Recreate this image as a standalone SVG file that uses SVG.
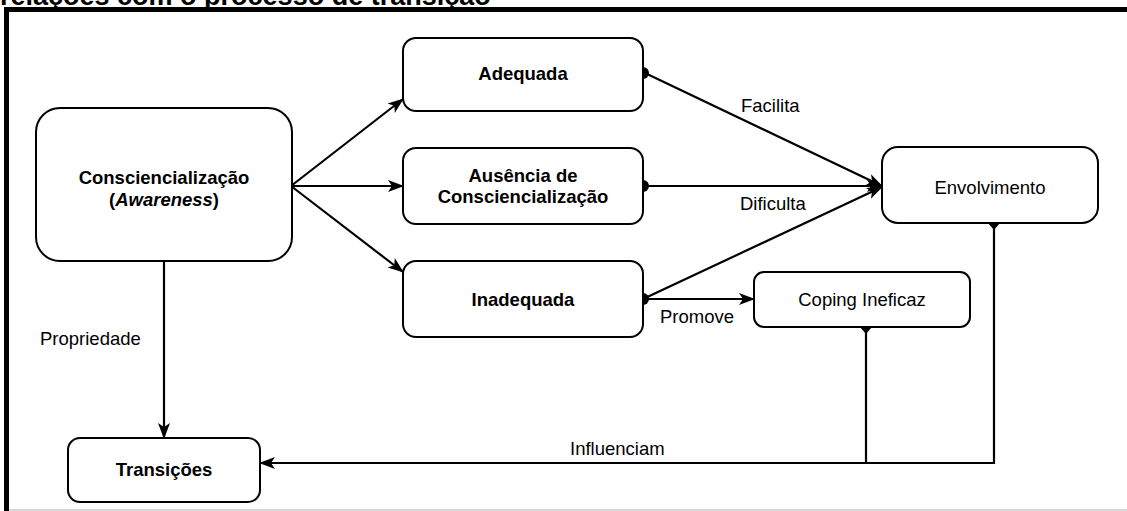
<svg xmlns="http://www.w3.org/2000/svg" width="1127" height="511" viewBox="0 0 1127 511">
<style>
.box{fill:#fff;stroke:#000;stroke-width:2}
.b{font-family:"Liberation Sans",Arial,sans-serif;font-size:18.5px;font-weight:bold;fill:#000;text-anchor:middle}
.n{font-family:"Liberation Sans",Arial,sans-serif;font-size:18.5px;fill:#000;text-anchor:middle}
.lbl{font-family:"Liberation Sans",Arial,sans-serif;font-size:18.5px;fill:#000}
.ln{fill:none;stroke:#000;stroke-width:2.2}
</style>
<defs>
<marker id="arr" markerUnits="userSpaceOnUse" markerWidth="18" markerHeight="14" refX="15" refY="7" orient="auto">
<path d="M0,1 L16,7 L0,13 L4,7 z" fill="#000"/>
</marker>
</defs>
<rect width="1127" height="511" fill="#fff"/>
<text x="0" y="5" style="font-family:'Liberation Sans',Arial,sans-serif;font-size:27px;font-weight:bold">relações com o processo de transição</text>
<rect x="4" y="7" width="1123" height="5" fill="#000"/>
<rect x="4" y="7" width="5" height="504" fill="#000"/>
<rect x="9" y="509" width="1118" height="2" fill="#d8d8d8"/>

<g id="connectors">
<line class="ln" x1="291" y1="186" x2="403" y2="99" marker-end="url(#arr)"/>
<line class="ln" x1="291" y1="186" x2="403" y2="186" marker-end="url(#arr)"/>
<line class="ln" x1="291" y1="186" x2="403" y2="272" marker-end="url(#arr)"/>
<circle cx="290" cy="186" r="4.5" fill="#000"/>
<line class="ln" x1="645" y1="73" x2="882" y2="186" marker-end="url(#arr)"/>
<path d="M643,67 A6,6 0 0 1 643,79 z" fill="#000"/>
<line class="ln" x1="645" y1="186" x2="882" y2="186" marker-end="url(#arr)"/>
<path d="M643,180 A6,6 0 0 1 643,192 z" fill="#000"/>
<line class="ln" x1="643" y1="299" x2="882" y2="187" marker-end="url(#arr)"/>
<line class="ln" x1="643" y1="299" x2="754" y2="299" marker-end="url(#arr)"/>
<circle cx="643" cy="299" r="6" fill="#000"/>
<line class="ln" x1="164" y1="261" x2="164" y2="438" marker-end="url(#arr)"/>
<polyline class="ln" points="994,223 994,463 260,463" marker-end="url(#arr)"/>
<line class="ln" x1="866" y1="327" x2="866" y2="463"/>
<path d="M866,320 L872,327 L866,334 L860,327 z" fill="#000"/>
<path d="M994,216 L1000,223 L994,230 L988,223 z" fill="#000"/>
<text class="lbl" x="741" y="112">Facilita</text>
<text class="lbl" x="740" y="210">Dificulta</text>
<text class="lbl" x="660" y="323">Promove</text>
<text class="lbl" x="40" y="345">Propriedade</text>
<text class="lbl" x="570" y="455">Influenciam</text>
</g>

<g id="consciencializacao">
<rect class="box" x="36" y="108" width="256" height="153" rx="24"/>
<text class="b" x="164" y="184">Consciencialização</text>
<text class="b" x="164" y="206">(<tspan font-style="italic">Awareness</tspan>)</text>
</g>
<g id="adequada">
<rect class="box" x="403" y="38" width="240" height="73" rx="13"/>
<text class="b" x="523" y="80">Adequada</text>
</g>
<g id="ausencia">
<rect class="box" x="403" y="148" width="240" height="76" rx="13"/>
<text class="b" x="523" y="182">Ausência de</text>
<text class="b" x="523" y="203">Consciencialização</text>
</g>
<g id="inadequada">
<rect class="box" x="403" y="261" width="240" height="76" rx="13"/>
<text class="b" x="523" y="306">Inadequada</text>
</g>
<g id="envolvimento">
<rect class="box" x="882" y="147" width="216" height="76" rx="16"/>
<text class="n" x="990" y="194">Envolvimento</text>
</g>
<g id="coping">
<rect class="box" x="754" y="272" width="216" height="55" rx="10"/>
<text class="n" x="862" y="306">Coping Ineficaz</text>
</g>
<g id="transicoes">
<rect class="box" x="68" y="438" width="192" height="64" rx="12"/>
<text class="b" x="164" y="476">Transições</text>
</g>
</svg>
